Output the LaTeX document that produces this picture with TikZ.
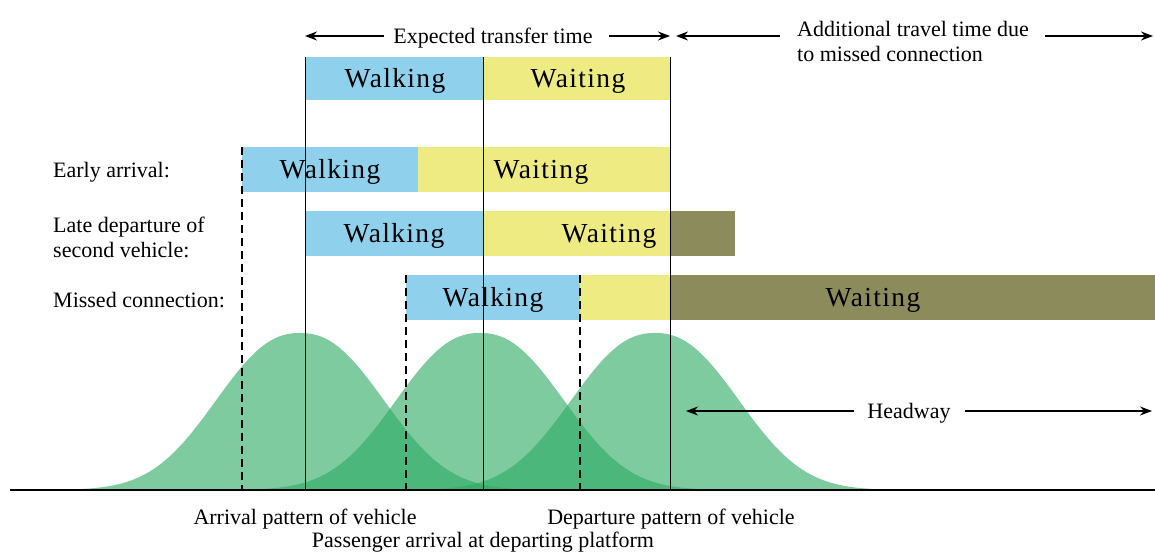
\documentclass[tikz,border=0pt]{standalone}
\usepackage{fontspec}
\setmainfont{Liberation Serif}
\newfontfamily\barfont[LetterSpace=5]{Liberation Serif}
\usetikzlibrary{arrows.meta,calc}

\definecolor{walkblue}{RGB}{143,208,236}
\definecolor{waityellow}{RGB}{237,235,130}
\definecolor{waitolive}{RGB}{140,139,92}
\definecolor{bellgreen}{RGB}{45,170,99}

\begin{document}
\begin{tikzpicture}[x=1pt, y=-1pt,
    lbl/.style={font=\fontsize{22}{25}\selectfont, inner sep=0pt},
    bartext/.style={font=\barfont\fontsize{27.5}{30}\selectfont, inner sep=0pt, anchor=base},
    dim/.style={-{Stealth[length=12pt,width=9pt]}, line width=1.2pt},
    walk/.style={fill=walkblue},
    wait/.style={fill=waityellow},
    extra/.style={fill=waitolive},
    guide/.style={line width=0.9pt},
    guidedash/.style={line width=1.4pt, dash pattern=on 8pt off 5pt},
    bell/.style={fill=bellgreen, fill opacity=0.61}]
  \useasboundingbox (0,0) rectangle (1155,551);

  % arrival / departure patterns
  \foreach \c/\a/\b in {300/10/610, 480/180/790, 655/350/965}
    \fill[bell] (\a,490) -- plot[domain=\a:\b, samples=160]
      (\x,{490-157*exp(-((abs(\x-\c)+0.01)/108)^2.3)}) -- (\b,490) -- cycle;

  % bars
  \fill[walk] (305,57) rectangle (483,100);
  \fill[wait] (483,57) rectangle (670,100);
  \fill[walk] (242,147) rectangle (418,192);
  \fill[wait] (418,147) rectangle (670,192);
  \fill[walk] (305,211) rectangle (483,256);
  \fill[wait] (483,211) rectangle (670,256);
  \fill[extra] (670,211) rectangle (735,256);
  \fill[walk] (406,275) rectangle (580,320);
  \fill[wait] (580,275) rectangle (670,320);
  \fill[extra] (670,275) rectangle (1155,320);

  \node[bartext] (walk0) at (395,87) {Walking};
  \node[bartext] (wait0) at (578,87) {Waiting};
  \node[bartext] (walk1) at (330,178) {Walking};
  \node[bartext] (wait1) at (541,178) {Waiting};
  \node[bartext] (walk2) at (394,242) {Walking};
  \node[bartext] (wait2) at (609,242) {Waiting};
  \node[bartext] (walk3) at (493,306) {Walking};
  \node[bartext] (wait3) at (873,306) {Waiting};

  % row labels
  \node[lbl, anchor=west] (early) at (53,172) {Early arrival:};
  \node[lbl, anchor=west, align=left] (late) at (53,237) {Late departure of\\second vehicle:};
  \node[lbl, anchor=west] (missed) at (53,300) {Missed connection:};

  % guide lines
  \foreach \gx in {305,483,670}
    \draw[guide] (\gx,57) -- (\gx,490);
  \draw[guidedash] (242,147) -- (242,490);
  \foreach \gx in {406,580}
    \draw[guidedash] (\gx,275) -- (\gx,490);
  \draw[line width=2.5pt] (10,490) -- (1155,490);

  % time spans
  \node[lbl] (ett) at (493,38) {Expected transfer time};
  \coordinate (ettL) at (305,36);
  \coordinate (ettR) at (670,36);
  \draw[dim] ($(ett.west |- ettL)+(-9,0)$) -- (ettL);
  \draw[dim] ($(ett.east |- ettR)+(16,0)$) -- (ettR);

  \node[lbl, anchor=west, align=left] (addl) at (797,41) {Additional travel time due\\to missed connection};
  \coordinate (addlL) at (676,36);
  \coordinate (addlA) at (780,36);
  \coordinate (addlB) at (1045,36);
  \coordinate (addlR) at (1153,36);
  \draw[dim] (addlA) -- (addlL);
  \draw[dim] (addlB) -- (addlR);

  \node[lbl] (hw) at (909,413) {Headway};
  \coordinate (hwL) at (686,411);
  \coordinate (hwR) at (1152,411);
  \draw[dim] ($(hw.west |- hwL)+(-13,0)$) -- (hwL);
  \draw[dim] ($(hw.east |- hwR)+(14,0)$) -- (hwR);

  % axis labels
  \node[lbl] (arrv) at (305,519) {Arrival pattern of vehicle};
  \node[lbl] (dept) at (671,519) {Departure pattern of vehicle};
  \node[lbl] (pass) at (483,542) {Passenger arrival at departing platform};
\end{tikzpicture}
\end{document}
